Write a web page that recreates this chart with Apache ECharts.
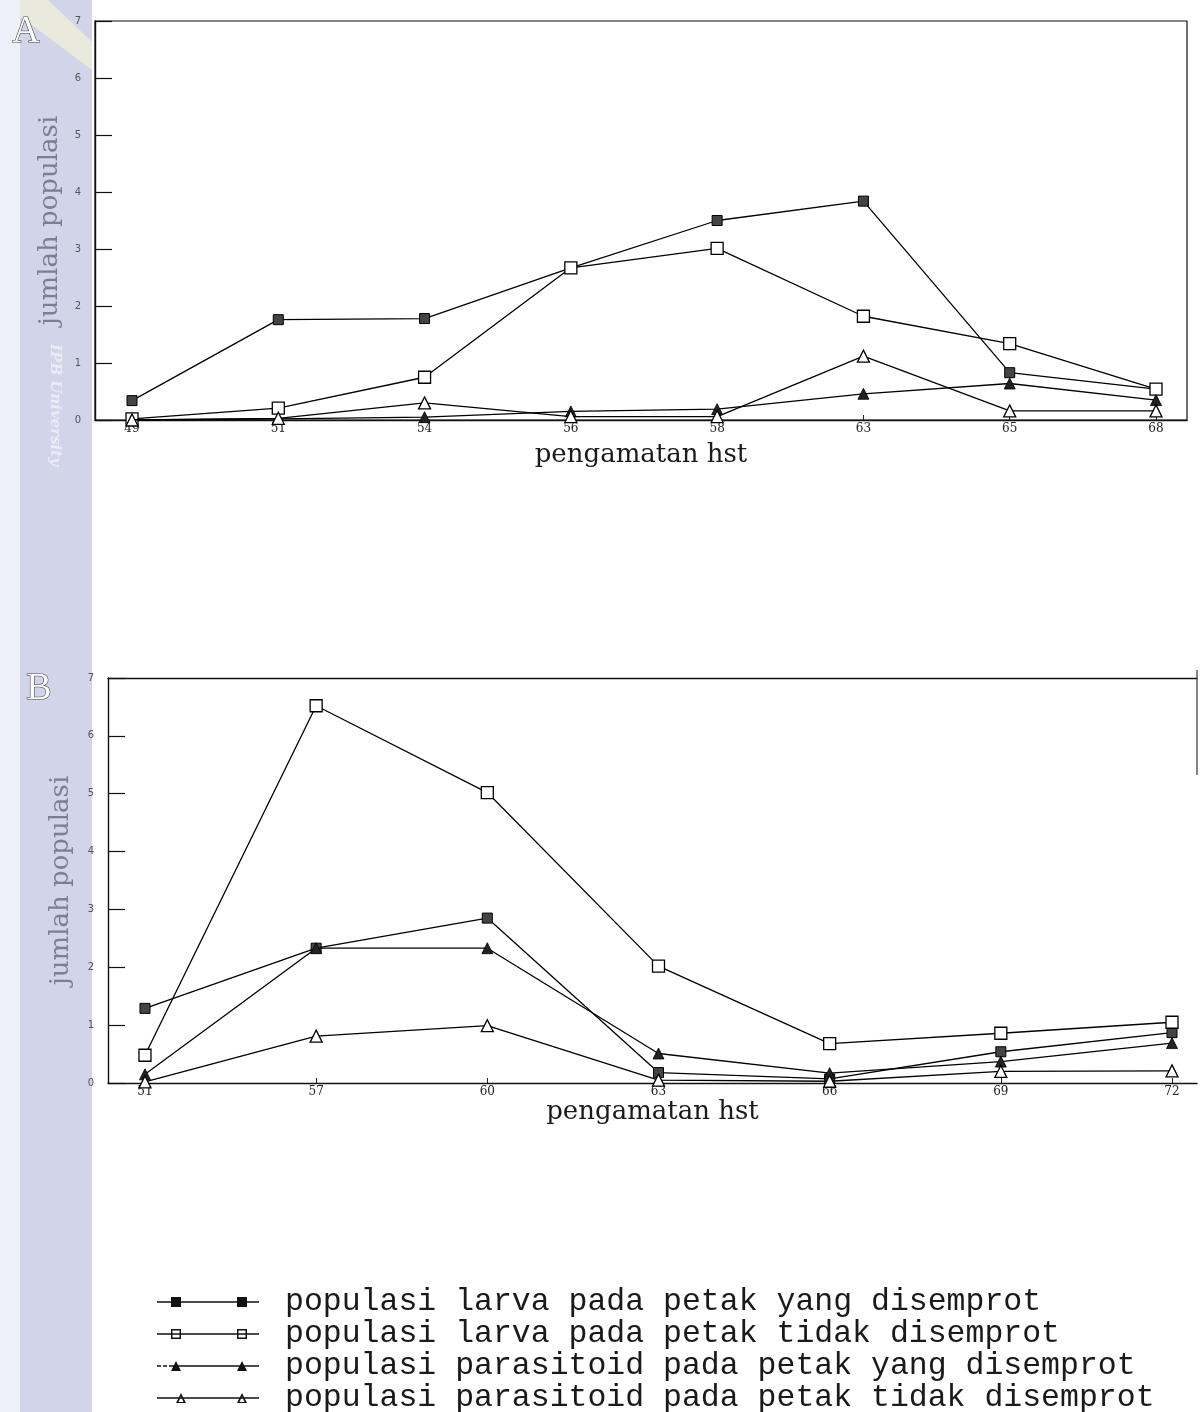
<!DOCTYPE html>
<html><head><meta charset="utf-8">
<script src="https://cdn.jsdelivr.net/npm/echarts@6/dist/echarts.min.js"></script>
<style>html,body{margin:0;padding:0;background:#fff}#c{width:1200px;height:1412px}</style>
</head><body><div id="c"></div>
<script>
// ---- Chart A data ----
const catsA = ['49','51','54','56','58','63','65','68'];
const larvaSprayA   = [0.34, 1.76, 1.78, 2.67, 3.50, 3.84, 0.83, 0.54];
const larvaNoSprayA = [0.02, 0.21, 0.75, 2.67, 3.01, 1.82, 1.34, 0.54];
const paraSprayA    = [0.00, 0.02, 0.05, 0.15, 0.19, 0.46, 0.64, 0.35];
const paraNoSprayA  = [0.00, 0.03, 0.30, 0.06, 0.06, 1.12, 0.16, 0.16];
// ---- Chart B data ----
const catsB = ['51','57','60','63','66','69','72'];
const larvaSprayB   = [1.29, 2.33, 2.85, 0.18, 0.07, 0.54, 0.87];
const larvaNoSprayB = [0.48, 6.52, 5.02, 2.02, 0.68, 0.86, 1.05];
const paraSprayB    = [0.15, 2.33, 2.33, 0.51, 0.17, 0.37, 0.69];
const paraNoSprayB  = [0.02, 0.81, 0.99, 0.05, 0.03, 0.20, 0.21];
// ---- labels ----
const seriesNames = [
  'populasi larva pada petak yang disemprot',
  'populasi larva pada petak tidak disemprot',
  'populasi parasitoid pada petak yang disemprot',
  'populasi parasitoid pada petak tidak disemprot'
];
const yTickMax = 7;
const xName = 'pengamatan hst';
const yName = 'jumlah populasi';

const idxA = catsA.map((_, i) => i);
const idxB = catsB.map((_, i) => i);

const styles = [
  {symbol:'rect', symbolSize:10, itemStyle:{color:'#444', borderColor:'#000', borderWidth:1}},
  {symbol:'rect', symbolSize:12, itemStyle:{color:'#fff', borderColor:'#000', borderWidth:1.3}},
  {symbol:'triangle', symbolSize:11, itemStyle:{color:'#222', borderColor:'#000', borderWidth:0.8}},
  {symbol:'triangle', symbolSize:12, itemStyle:{color:'#fff', borderColor:'#000', borderWidth:1.3}}
];
const icons = [
  'path://M0,4.3h102v1.4h-102z M14,0h10v10h-10z M80,0h10v10h-10z',
  'path://M0,4.3h102v1.4h-102z M14,0h10v10h-10z M15.5,1.5v7h7v-7z M80,0h10v10h-10z M81.5,1.5v7h7v-7z',
  'path://M0,4.3h4v1.4h-4z M6,4.3h4v1.4h-4z M12,4.3h90v1.4h-90z M14,10L19,0L24,10z M80,10L85,0L90,10z',
  'path://M0,4.3h102v1.4h-102z M19,10L24,0L29,10z M21.5,9L26.5,9L24,3.2z M80,10L85,0L90,10z M82.5,9L87.5,9L85,3.2z'
];

function mk(i, vals, gi) {
  return Object.assign({
    name: seriesNames[i], type:'line', xAxisIndex: gi, yAxisIndex: gi,
    data: vals.map((v, k) => [k, v]),
    lineStyle:{color:'#000', width:1.3}, showAllSymbol:true, animation:false, z: 3 + i
  }, JSON.parse(JSON.stringify(styles[i])));
}

const labelY = {fontSize:10, color:'#555', fontFamily:'DejaVu Sans', margin:14};
function yAx(gi, gap) {
  return {type:'value', gridIndex:gi, min:0, max:yTickMax, interval:1,
    axisLine:{show:true, onZero:false, lineStyle:{color:'#111', width:1.4}},
    axisTick:{show:true, inside:true, length:17, lineStyle:{color:'#111', width:1.2}},
    axisLabel: labelY, splitLine:{show:false},
    name: yName, nameLocation:'middle', nameGap: gap,
    nameTextStyle:{fontFamily:'DejaVu Serif', fontSize:26, color:'#7b7f96'}};
}
function xAx(gi, cats, idx, min, max, gap) {
  return {type:'value', gridIndex:gi, min:min, max:max,
    axisLine:{show:true, onZero:false, lineStyle:{color:'#111', width:1.4}},
    axisTick:{show:true, inside:true, length:5, customValues: idx, lineStyle:{color:'#222'}},
    axisLabel:{customValues: idx, formatter: v => cats[Math.round(v)], margin:3,
      fontFamily:'DejaVu Serif', fontSize:12, color:'#222'},
    splitLine:{show:false},
    name: xName, nameLocation:'middle', nameGap: gap,
    nameTextStyle:{fontFamily:'DejaVu Serif', fontSize:26, color:'#1a1a1a'}};
}

const option = {
  backgroundColor:'#fff',
  animation:false,
  grid:[
    {left:95, top:21, width:1092, height:399, show:true, borderColor:'#111', borderWidth:1.2, backgroundColor:'transparent'},
    {left:108, top:678, width:1089, height:405, show:false}
  ],
  xAxis:[
    xAx(0, catsA, idxA, -0.253, 7.212, 22),
    xAx(1, catsB, idxB, -0.216, 6.146, 15),
    {type:'value', gridIndex:1, position:'top', min:-0.216, max:6.146,
      axisLine:{show:true, onZero:false, lineStyle:{color:'#111', width:1.4}}, axisTick:{show:false},
      axisLabel:{show:false}, splitLine:{show:false}}
  ],
  yAxis:[ yAx(0, 21), yAx(1, 34) ],
  legend:{
    orient:'vertical', left:157, top:1286, width:1000, height:300, padding:0, itemGap:0,
    itemWidth:102, itemHeight:10, selectedMode:false,
    textStyle:{fontFamily:'Liberation Mono', fontSize:31.5, color:'#1a1a1a', lineHeight:31.5, padding:[0,0,0,21]},
    data: seriesNames.map((n, i) => ({name:n, icon:icons[i], itemStyle:{color:'#111', borderWidth:0}}))
  },
  graphic:[
    {type:'rect', z:-10, shape:{x:0, y:0, width:20, height:1412}, style:{fill:'#efeff7'}},
    {type:'rect', z:-10, shape:{x:20, y:0, width:72, height:1412}, style:{fill:'#d2d5e9'}},
    {type:'polygon', z:-9, shape:{points:[[20,0],[48,0],[92,42],[92,70],[20,16]]}, style:{fill:'#efedd9', opacity:0.85}},
    {type:'text', z:-8, x:55, y:405, rotation:-Math.PI/2,
      style:{text:'IPB University', fill:'rgba(255,255,255,0.55)', font:'italic bold 15px "DejaVu Serif"', align:'center', verticalAlign:'middle'}},
    {type:'text', z:5, x:26, y:32, style:{text:'A', fill:'#fff', stroke:'#444', lineWidth:1.2, font:'38px "Liberation Serif"', align:'center', verticalAlign:'middle'}},
    {type:'text', z:5, x:39, y:689, style:{text:'B', fill:'#fff', stroke:'#444', lineWidth:1.2, font:'38px "Liberation Serif"', align:'center', verticalAlign:'middle'}},
    {type:'line', z:5, shape:{x1:1197, y1:670, x2:1197, y2:775}, style:{stroke:'#333', lineWidth:1.2}}
  ],
  series:[
    mk(0, larvaSprayA, 0), mk(1, larvaNoSprayA, 0), mk(2, paraSprayA, 0), mk(3, paraNoSprayA, 0),
    mk(0, larvaSprayB, 1), mk(1, larvaNoSprayB, 1), mk(2, paraSprayB, 1), mk(3, paraNoSprayB, 1)
  ]
};
const chart = echarts.init(document.getElementById('c'), null, {renderer:'canvas'});
chart.setOption(option);
</script>
</body></html>
